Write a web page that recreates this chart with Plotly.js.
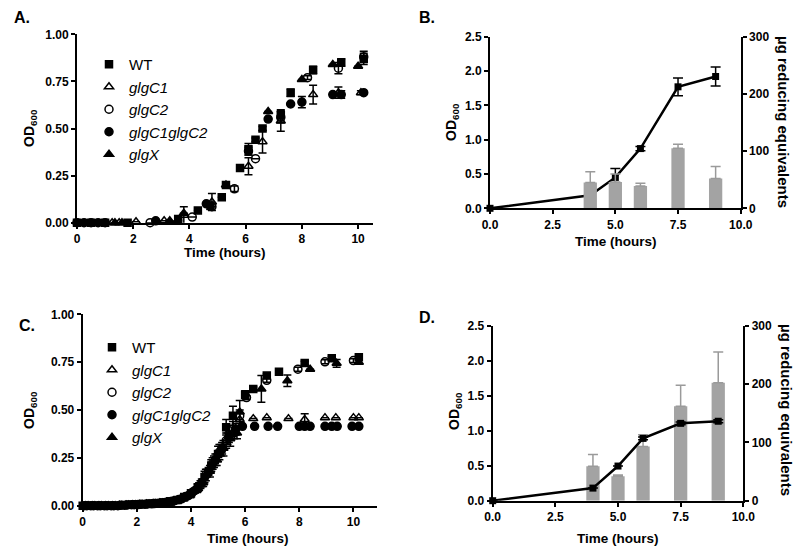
<!DOCTYPE html>
<html><head><meta charset="utf-8">
<script src="https://cdn.plot.ly/plotly-3.0.1.min.js"></script>
<style>html,body{margin:0;padding:0;background:#fff}#chart{width:800px;height:550px}</style>
</head><body><div id="chart"></div>
<script>
// ---------- Panel A (time in hours, OD600) ----------
const seriesNames = ['WT', '<i>glgC1</i>', '<i>glgC2</i>', '<i>glgC1glgC2</i>', '<i>glgX</i>'];

const A_WT_t   = [0, 0.5, 1.0, 1.8, 3.6, 4.3, 4.75, 5.15, 5.3, 5.8, 6.1, 6.35, 6.6, 7.25, 7.6, 8.4, 9.4, 10.2];
const A_WT_od  = [0, 0, 0, 0, 0.02, 0.065, 0.09, 0.135, 0.2, 0.29, 0.39, 0.44, 0.5, 0.57, 0.69, 0.81, 0.85, 0.87];
const A_WT_err = [0, 0, 0, 0, 0.01, 0, 0.02, 0, 0.015, 0, 0.03, 0.01, 0.01, 0.03, 0.02, 0.02, 0.02, 0.03];

const A_C1_t   = [1.25, 1.5, 2.1, 3.1, 3.8, 4.8, 6.1, 6.6, 7.25, 8.4, 9.3, 10.1];
const A_C1_od  = [0, 0, 0.005, 0.01, 0.04, 0.11, 0.30, 0.43, 0.54, 0.68, 0.69, 0.69];
const A_C1_err = [0, 0, 0, 0, 0.045, 0.045, 0.045, 0.06, 0.055, 0.05, 0.03, 0.01];

const A_C2_t   = [2.6, 4.1, 4.8, 5.6, 6.35, 7.25, 8.2, 9.3, 10.2];
const A_C2_od  = [0, 0.03, 0.085, 0.18, 0.34, 0.56, 0.77, 0.82, 0.88];
const A_C2_err = [0, 0, 0, 0.015, 0, 0.03, 0.01, 0.03, 0.03];

const A_C12_t   = [0, 0.25, 0.5, 0.75, 1.0, 2.8, 4.6, 6.1, 6.8, 7.6, 8.0, 9.1, 9.4, 10.2];
const A_C12_od  = [0, 0, 0, 0, 0, 0.01, 0.10, 0.38, 0.55, 0.63, 0.64, 0.68, 0.68, 0.69];
const A_C12_err = [0, 0, 0, 0, 0, 0, 0, 0.02, 0, 0, 0.03, 0, 0.02, 0];

const A_X_t   = [1.35, 1.6, 3.3, 3.8, 5.3, 6.8, 8.0, 9.1, 10.0];
const A_X_od  = [0, 0, 0.01, 0.05, 0.2, 0.59, 0.76, 0.84, 0.83];
const A_X_err = [0, 0, 0, 0, 0, 0, 0, 0, 0];

// ---------- Panel C ----------
const C_WT_t   = [0, 0.25, 0.5, 0.75, 1.0, 1.25, 1.5, 1.75, 2.0, 2.25, 2.5, 2.75, 3.0, 3.25, 3.5, 3.75, 4.0, 4.25, 4.5, 4.75, 5.0, 5.3, 5.55, 6.0, 6.3, 6.8, 7.25, 8.2, 9.2, 10.2];
const C_WT_od  = [0, 0, 0, 0, 0, 0, 0.003, 0.005, 0.006, 0.008, 0.01, 0.013, 0.017, 0.022, 0.03, 0.045, 0.065, 0.095, 0.15, 0.21, 0.27, 0.41, 0.47, 0.58, 0.61, 0.68, 0.70, 0.745, 0.77, 0.775];
const C_WT_err = [0, 0, 0, 0, 0, 0, 0, 0, 0, 0, 0, 0, 0, 0, 0, 0.005, 0.01, 0.02, 0.03, 0.03, 0.04, 0.04, 0.05, 0.02, 0.01, 0.01, 0, 0.01, 0.01, 0.01];

const C_C1_t   = [0.1, 0.35, 0.6, 0.85, 1.1, 1.35, 1.6, 1.85, 2.1, 2.35, 2.6, 2.85, 3.1, 3.35, 3.6, 3.85, 4.1, 4.35, 4.6, 4.85, 5.1, 5.35, 5.6, 5.8, 6.3, 6.8, 7.6, 8.2, 8.95, 9.35, 10.0, 10.2];
const C_C1_od  = [0, 0, 0, 0, 0, 0.002, 0.004, 0.005, 0.007, 0.009, 0.011, 0.014, 0.018, 0.024, 0.033, 0.05, 0.075, 0.11, 0.17, 0.23, 0.29, 0.35, 0.38, 0.45, 0.455, 0.46, 0.455, 0.45, 0.46, 0.46, 0.46, 0.46];
const C_C1_err = [0, 0, 0, 0, 0, 0, 0, 0, 0, 0, 0, 0, 0, 0, 0, 0.005, 0.01, 0.02, 0.02, 0.03, 0.03, 0.03, 0.03, 0, 0, 0, 0, 0.03, 0, 0, 0, 0];

const C_C2_t   = [0.05, 0.3, 0.55, 0.8, 1.05, 1.3, 1.55, 1.8, 2.05, 2.3, 2.55, 2.8, 3.05, 3.3, 3.55, 3.8, 4.05, 4.3, 4.55, 4.8, 5.05, 5.3, 5.55, 5.8, 6.05, 6.8, 7.95, 8.95, 10.0];
const C_C2_od  = [0, 0, 0, 0, 0, 0, 0.003, 0.005, 0.006, 0.008, 0.01, 0.013, 0.017, 0.023, 0.032, 0.048, 0.07, 0.10, 0.16, 0.22, 0.28, 0.34, 0.40, 0.47, 0.565, 0.655, 0.713, 0.752, 0.758];
const C_C2_err = [0, 0, 0, 0, 0, 0, 0, 0, 0, 0, 0, 0, 0, 0, 0, 0.005, 0.01, 0.02, 0.03, 0.03, 0.04, 0.04, 0.04, 0.03, 0.01, 0.01, 0.01, 0.01, 0.01];

const C_C12_t   = [0.15, 0.4, 0.65, 0.9, 1.15, 1.4, 1.65, 1.9, 2.15, 2.4, 2.65, 2.9, 3.15, 3.4, 3.65, 3.9, 4.15, 4.4, 4.65, 4.9, 5.15, 5.4, 5.65, 5.9, 6.35, 6.85, 7.2, 8.0, 8.2, 8.4, 8.95, 9.2, 9.4, 9.95, 10.2];
const C_C12_od  = [0, 0, 0, 0, 0, 0.002, 0.004, 0.005, 0.007, 0.009, 0.011, 0.014, 0.02, 0.026, 0.035, 0.052, 0.08, 0.12, 0.18, 0.24, 0.30, 0.36, 0.40, 0.415, 0.415, 0.415, 0.415, 0.415, 0.415, 0.415, 0.415, 0.415, 0.415, 0.415, 0.415];
const C_C12_err = [0, 0, 0, 0, 0, 0, 0, 0, 0, 0, 0, 0, 0, 0, 0, 0.005, 0.01, 0.02, 0.02, 0.03, 0.03, 0.03, 0.03, 0, 0, 0, 0, 0, 0, 0, 0, 0, 0, 0, 0];

const C_X_t   = [0.2, 0.45, 0.7, 0.95, 1.2, 1.45, 1.7, 1.95, 2.2, 2.45, 2.7, 2.95, 3.2, 3.45, 3.7, 3.95, 4.2, 4.45, 4.7, 4.95, 5.2, 5.45, 5.7, 5.8, 6.6, 7.56, 8.4, 9.38, 10.2];
const C_X_od  = [0, 0, 0, 0, 0, 0.002, 0.004, 0.005, 0.007, 0.009, 0.011, 0.014, 0.019, 0.025, 0.035, 0.052, 0.08, 0.12, 0.18, 0.24, 0.30, 0.35, 0.38, 0.49, 0.61, 0.653, 0.713, 0.744, 0.75];
const C_X_err = [0, 0, 0, 0, 0, 0, 0, 0, 0, 0, 0, 0, 0, 0, 0, 0.005, 0.01, 0.02, 0.03, 0.03, 0.04, 0.04, 0.03, 0.06, 0.07, 0.03, 0, 0.02, 0.01];

// ---------- Panel B ----------
const B_line_t   = [0, 4, 5, 6, 7.5, 9];
const B_line_od  = [0, 0.19, 0.45, 0.87, 1.77, 1.92];
const B_line_err = [0, 0, 0.13, 0.03, 0.13, 0.14];
const B_bar_t    = [4, 5, 6, 7.5, 9];
const B_bar_ug   = [45, 46, 39, 105, 52];
const B_bar_err  = [19, 14, 5, 7, 21];

// ---------- Panel D ----------
const D_line_t   = [0, 4, 5, 6, 7.5, 9];
const D_line_od  = [0, 0.18, 0.495, 0.89, 1.105, 1.135];
const D_line_err = [0, 0, 0, 0.02, 0.02, 0.02];
const D_bar_t    = [4, 5, 6, 7.5, 9];
const D_bar_ug   = [59, 42, 93, 162, 202];
const D_bar_err  = [20, 2, 20, 36, 53];

const FONT = 'Liberation Sans, Arial, Helvetica, sans-serif';
const symbols = ['square', 'triangle-up-open', 'circle-open', 'circle', 'triangle-up'];
const sizes = [7, 8, 8, 8, 8];
const px = x => x / 800;
const py = y => 1 - y / 550;

function growth(t, od, err, i, xa, ya, leg) {
  return {
    type: 'scatter', mode: 'markers', x: t, y: od, xaxis: xa, yaxis: ya,
    name: seriesNames[i], legend: leg, cliponaxis: false,
    marker: {symbol: symbols[i], size: sizes[i], color: 'black', line: {color: 'black', width: 1.5}},
    error_y: {type: 'data', array: err, visible: true, color: 'black', thickness: 1.5, width: 4}
  };
}

const traces = [
  growth(A_WT_t, A_WT_od, A_WT_err, 0, 'x', 'y', 'legend'),
  growth(A_C1_t, A_C1_od, A_C1_err, 1, 'x', 'y', 'legend'),
  growth(A_C2_t, A_C2_od, A_C2_err, 2, 'x', 'y', 'legend'),
  growth(A_C12_t, A_C12_od, A_C12_err, 3, 'x', 'y', 'legend'),
  growth(A_X_t, A_X_od, A_X_err, 4, 'x', 'y', 'legend'),
  growth(C_WT_t, C_WT_od, C_WT_err, 0, 'x3', 'y4', 'legend2'),
  growth(C_C1_t, C_C1_od, C_C1_err, 1, 'x3', 'y4', 'legend2'),
  growth(C_C2_t, C_C2_od, C_C2_err, 2, 'x3', 'y4', 'legend2'),
  growth(C_C12_t, C_C12_od, C_C12_err, 3, 'x3', 'y4', 'legend2'),
  growth(C_X_t, C_X_od, C_X_err, 4, 'x3', 'y4', 'legend2'),
  // Panel B: line on left axis, bars on right (drawn above)
  {type: 'scatter', mode: 'lines+markers', x: B_line_t, y: B_line_od, xaxis: 'x2', yaxis: 'y2', showlegend: false, cliponaxis: false,
   line: {color: 'black', width: 2.5}, marker: {symbol: 'square', size: 7, color: 'black'},
   error_y: {type: 'data', array: B_line_err, visible: true, color: 'black', thickness: 1.5, width: 5}},
  {type: 'bar', x: B_bar_t, y: B_bar_ug, xaxis: 'x2', yaxis: 'y3', showlegend: false, width: 0.53,
   marker: {color: '#a3a3a3', line: {width: 0}},
   error_y: {type: 'data', symmetric: false, array: B_bar_err, arrayminus: [0, 0, 0, 0, 0], visible: true, color: '#9a9a9a', thickness: 1.5, width: 5}},
  // Panel D: bars on right (base) axis, line on overlaying left axis (drawn above)
  {type: 'bar', x: D_bar_t, y: D_bar_ug, xaxis: 'x4', yaxis: 'y5', showlegend: false, width: 0.53,
   marker: {color: '#a3a3a3', line: {width: 0}},
   error_y: {type: 'data', symmetric: false, array: D_bar_err, arrayminus: [0, 0, 0, 0, 0], visible: true, color: '#9a9a9a', thickness: 1.5, width: 5}},
  {type: 'scatter', mode: 'lines+markers', x: D_line_t, y: D_line_od, xaxis: 'x4', yaxis: 'y6', showlegend: false, cliponaxis: false,
   line: {color: 'black', width: 2.5}, marker: {symbol: 'square', size: 7, color: 'black'},
   error_y: {type: 'data', array: D_line_err, visible: true, color: 'black', thickness: 1.5, width: 5}}
];

const tickFont = {family: FONT, size: 12, color: 'black', weight: 'bold'};
const common = {showline: true, linewidth: 2, linecolor: 'black', ticks: 'outside', ticklen: 4, tickwidth: 2,
  tickcolor: 'black', showgrid: false, zeroline: false, tickfont: tickFont, fixedrange: true, automargin: false};

const layout = {
  width: 800, height: 550, margin: {l: 0, r: 0, t: 0, b: 0},
  paper_bgcolor: 'white', plot_bgcolor: 'rgba(0,0,0,0)', showlegend: true, barmode: 'overlay',
  xaxis:  Object.assign({}, common, {domain: [px(77), px(373)], range: [0, 10.53], tickvals: [0, 2, 4, 6, 8, 10], anchor: 'y'}),
  yaxis:  Object.assign({}, common, {domain: [py(222.7), py(34.3)], range: [0, 1], tickvals: [0, 0.25, 0.5, 0.75, 1], tickformat: '.2f', anchor: 'x'}),
  xaxis2: Object.assign({}, common, {domain: [px(490), px(740.7)], range: [0, 10], tickvals: [0, 2.5, 5, 7.5, 10], tickformat: '.1f', anchor: 'y2'}),
  yaxis2: Object.assign({}, common, {domain: [py(208.3), py(36.7)], range: [0, 2.5], tickvals: [0, 0.5, 1, 1.5, 2, 2.5], tickformat: '.1f', anchor: 'x2'}),
  yaxis3: Object.assign({}, common, {overlaying: 'y2', side: 'right', range: [0, 300], tickvals: [0, 100, 200, 300], anchor: 'x2'}),
  xaxis3: Object.assign({}, common, {domain: [px(82.7), px(376.7)], range: [0, 10.86], tickvals: [0, 2, 4, 6, 8, 10], anchor: 'y4'}),
  yaxis4: Object.assign({}, common, {domain: [py(505.7), py(314.3)], range: [0, 1], tickvals: [0, 0.25, 0.5, 0.75, 1], tickformat: '.2f', anchor: 'x3'}),
  xaxis4: Object.assign({}, common, {domain: [px(492.7), px(743.3)], range: [0, 10], tickvals: [0, 2.5, 5, 7.5, 10], tickformat: '.1f', anchor: 'y5'}),
  yaxis5: Object.assign({}, common, {domain: [py(500.7), py(325.7)], side: 'right', range: [0, 300], tickvals: [0, 100, 200, 300], anchor: 'x4'}),
  yaxis6: Object.assign({}, common, {overlaying: 'y5', side: 'left', range: [0, 2.5], tickvals: [0, 0.5, 1, 1.5, 2, 2.5], tickformat: '.1f', anchor: 'x4'}),
  legend:  {x: px(89), y: py(48), xanchor: 'left', yanchor: 'top', bgcolor: 'rgba(0,0,0,0)', font: {family: FONT, size: 15, color: 'black'}},
  legend2: {x: px(92), y: py(331), xanchor: 'left', yanchor: 'top', bgcolor: 'rgba(0,0,0,0)', font: {family: FONT, size: 15, color: 'black'}},
  annotations: []
};

function note(text, x, y, opts) {
  layout.annotations.push(Object.assign({text: text, x: px(x), y: py(y), xref: 'paper', yref: 'paper', showarrow: false,
    xanchor: 'center', yanchor: 'middle', font: {family: FONT, size: 13, color: 'black', weight: 'bold'}}, opts || {}));
}
const letterFont = {family: FONT, size: 16, color: 'black', weight: 'bold'};
note('A.', 12, 18, {xanchor: 'left', font: letterFont});
note('B.', 417, 18, {xanchor: 'left', font: letterFont});
note('C.', 17, 325, {xanchor: 'left', font: letterFont});
note('D.', 417, 317, {xanchor: 'left', font: letterFont});
const odFont = {family: FONT, size: 14, color: 'black', weight: 'bold'};
const rightFont = {family: FONT, size: 15, color: 'black', weight: 'bold'};
const timeFont = {family: FONT, size: 13.5, color: 'black', weight: 'bold'};
note('Time (hours)', 225, 253, {font: timeFont});
note('OD<sub>600</sub>', 30, 128, {textangle: -90, font: odFont});
note('Time (hours)', 616, 242, {font: timeFont});
note('OD<sub>600</sub>', 452, 122, {textangle: -90, font: odFont});
note('µg reducing equivalents', 783, 122, {textangle: 90, font: rightFont});
note('Time (hours)', 248, 538, {font: timeFont});
note('OD<sub>600</sub>', 30, 410, {textangle: -90, font: odFont});
note('Time (hours)', 618, 538, {font: timeFont});
note('OD<sub>600</sub>', 455, 411, {textangle: -90, font: odFont});
note('µg reducing equivalents', 787, 410, {textangle: 90, font: rightFont});

Plotly.newPlot('chart', traces, layout, {staticPlot: true, displayModeBar: false});
</script></body></html>
